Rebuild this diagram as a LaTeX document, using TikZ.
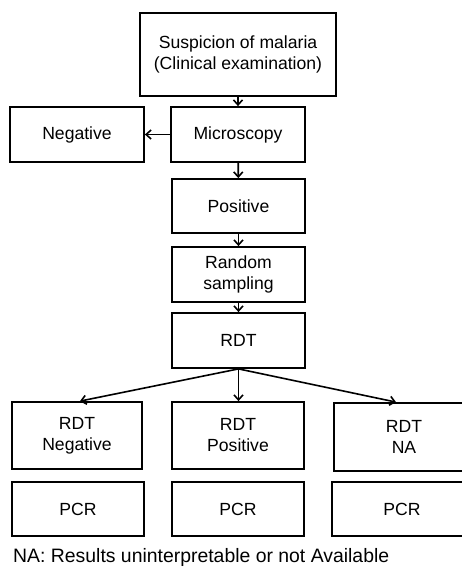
\documentclass[tikz,border=0pt]{standalone}
\usepackage{fontspec}
\setmainfont{Liberation Sans}
\usetikzlibrary{arrows.meta}
\begin{document}
\begin{tikzpicture}[x=1pt,y=-1pt,
  box/.style={draw=black, line width=1.8pt, align=center, inner sep=0pt,
    font=\fontsize{17.6}{21}\selectfont},
  conn/.style={line width=1.6pt, -{Straight Barb[length=5pt,width=9pt,line width=1.6pt]}}]
\useasboundingbox (0,0) rectangle (462,567);
\begin{scope}
\clip (0,0) rectangle (462,567);
\node[box, minimum width=196pt, minimum height=83pt] (top) at (238,54.5) {Suspicion of malaria\\(Clinical examination)};
\node[box, minimum width=134pt, minimum height=55pt] (micro) at (238,134.5) {Microscopy};
\node[box, minimum width=134pt, minimum height=55pt] (neg) at (77,134.5) {Negative};
\node[box, minimum width=133pt, minimum height=54pt] (pos) at (238.5,206) {Positive};
\node[box, minimum width=133pt, minimum height=55pt] (rand) at (238.5,274.5) {Random\\sampling};
\node[box, minimum width=133pt, minimum height=55pt] (rdt) at (238.5,340.5) {RDT};
\node[box, minimum width=130pt, minimum height=67pt] (rneg) at (77,435.5) {RDT\\Negative};
\node[box, minimum width=132pt, minimum height=67pt] (rpos) at (238,435.5) {RDT\\Positive};
\node[box, minimum width=140pt, minimum height=68pt, text width=136pt] (rna) at (404,437) {RDT\\NA};
\node[box, minimum width=132pt, minimum height=54pt] (pcra) at (78,509) {PCR};
\node[box, minimum width=132pt, minimum height=54pt] (pcrb) at (238,509) {PCR};
\node[box, minimum width=140pt, minimum height=54pt, text width=136pt] (pcrc) at (402,509) {PCR};
\node[anchor=west, inner sep=0pt, font=\fontsize{19.4}{23}\selectfont] (note) at (13,557) {NA: Results uninterpretable or not Available};
\draw[conn] (top) -- (micro);
\draw[conn] (micro) -- (neg);
\draw[conn] (micro) -- (pos);
\draw[conn] (pos) -- (rand);
\draw[conn] (rand) -- (rdt);
\draw[conn] (rdt.south) -- (rneg.north -| 80,0);
\draw[conn] (rdt.south) -- (rpos.north -| rdt.south);
\draw[conn] (rdt.south) -- (rna.north -| 396,0);
\end{scope}
\end{tikzpicture}
\end{document}
